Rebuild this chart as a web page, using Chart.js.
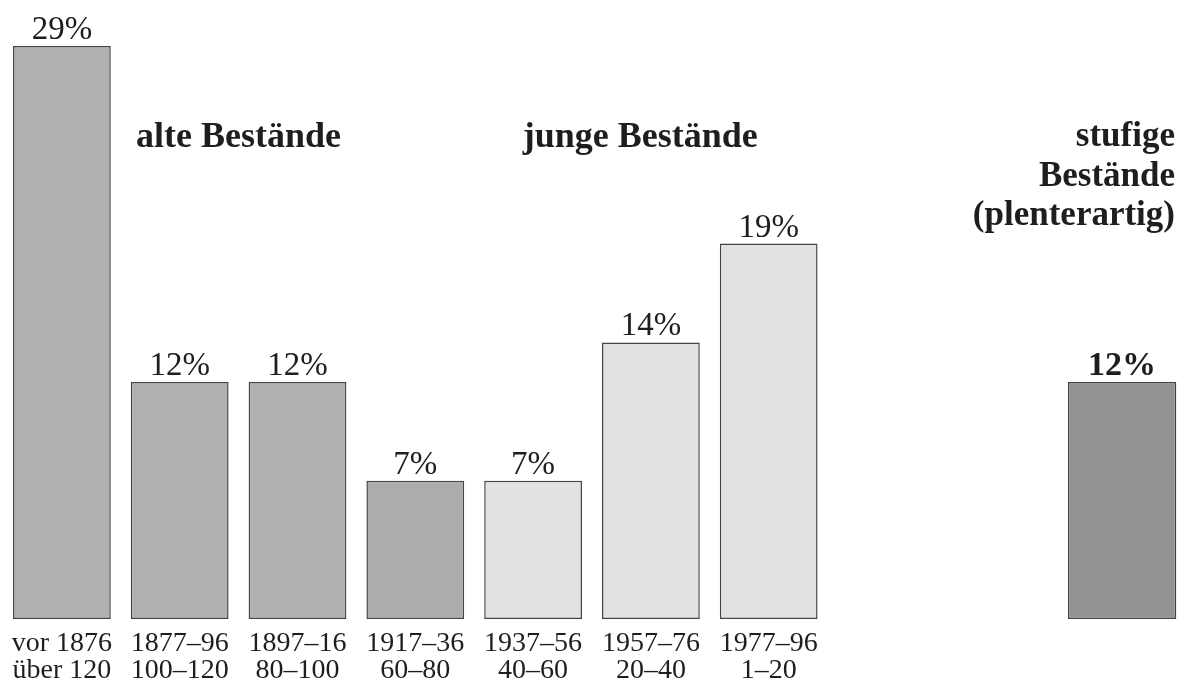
<!DOCTYPE html>
<html>
<head>
<meta charset="utf-8">
<script src="https://cdn.jsdelivr.net/npm/chart.js@4"></script>
<style>
  html, body { margin: 0; padding: 0; background: #fff; }
  #wrap { width: 1181px; height: 690px; }
</style>
</head>
<body>
<div id="wrap"><canvas id="waldChart"></canvas></div>
<script>
// Altersklassen (Periode / Alter in Jahren)
const periods = ['vor 1876', '1877–96', '1897–16', '1917–36', '1937–56', '1957–76', '1977–96', '', '', ''];
const ages = ['über 120', '100–120', '80–100', '60–80', '40–60', '20–40', '1–20', '', '', ''];
// Anteile in %
const altersklassen = [29, 12, 12, 7, 7, 14, 19, null, null, null];
const stufig = [null, null, null, null, null, null, null, null, null, 12];
const barColors = ['#b0b0b0', '#b0b0b0', '#b0b0b0', '#acacac', '#e2e2e2', '#e2e2e2', '#e2e2e2', '#fff', '#fff', '#fff'];

const serif = '"Liberation Serif", "DejaVu Serif", serif';

const labelPlugin = {
  id: 'labels',
  afterDatasetsDraw(chart) {
    const ctx = chart.ctx;
    const area = chart.chartArea;
    ctx.save();
    ctx.fillStyle = '#1e1e1e';
    ctx.textAlign = 'center';
    ctx.textBaseline = 'alphabetic';
    chart.data.datasets.forEach((ds, di) => {
      const meta = chart.getDatasetMeta(di);
      meta.data.forEach((bar, i) => {
        if (ds.data[i] == null) return;
        ctx.font = di === 1 ? 'bold 34px ' + serif : '33px ' + serif;
        ctx.fillText(ds.data[i] + '%', bar.x, bar.y - 7);
      });
    });

    const x = chart.scales.x;
    ctx.font = 'bold 36px ' + serif;
    ctx.fillText('alte Bestände', x.getPixelForValue(1.5), 147);
    ctx.fillText('junge Bestände', x.getPixelForValue(4.91), 147);
    ctx.font = 'bold 35px ' + serif;
    ctx.textAlign = 'right';
    ctx.fillText('stufige', area.right - 6, 146);
    ctx.fillText('Bestände', area.right - 6, 186);
    ctx.fillText('(plenterartig)', area.right - 6, 225);
    ctx.restore();
  }
};

new Chart(document.getElementById('waldChart'), {
  type: 'bar',
  data: {
    labels: periods.map((p, i) => [p, ages[i]]),
    datasets: [
      {
        data: altersklassen,
        backgroundColor: barColors,
        borderColor: '#454545',
        borderWidth: 1.5,
        borderSkipped: false,
        barPercentage: 0.83,
        categoryPercentage: 1,
        grouped: false
      },
      {
        data: stufig,
        backgroundColor: '#939393',
        borderColor: '#454545',
        borderWidth: 1.5,
        borderSkipped: false,
        barPercentage: 0.92,
        categoryPercentage: 1,
        grouped: false
      }
    ]
  },
  options: {
    responsive: true,
    maintainAspectRatio: false,
    animation: false,
    layout: { padding: { top: 46, left: 3, right: 0, bottom: 0 } },
    plugins: {
      legend: { display: false },
      tooltip: { enabled: false }
    },
    scales: {
      x: {
        grid: { display: false },
        border: { display: false },
        ticks: {
          color: '#1e1e1e',
          font: { family: serif, size: 28, lineHeight: 0.97 },
          padding: 3,
          maxRotation: 0,
          autoSkip: false
        },
        afterFit: (s) => { s.height = 71; }
      },
      y: {
        display: false,
        min: 0,
        max: 29
      }
    }
  },
  plugins: [labelPlugin]
});
</script>
</body>
</html>
